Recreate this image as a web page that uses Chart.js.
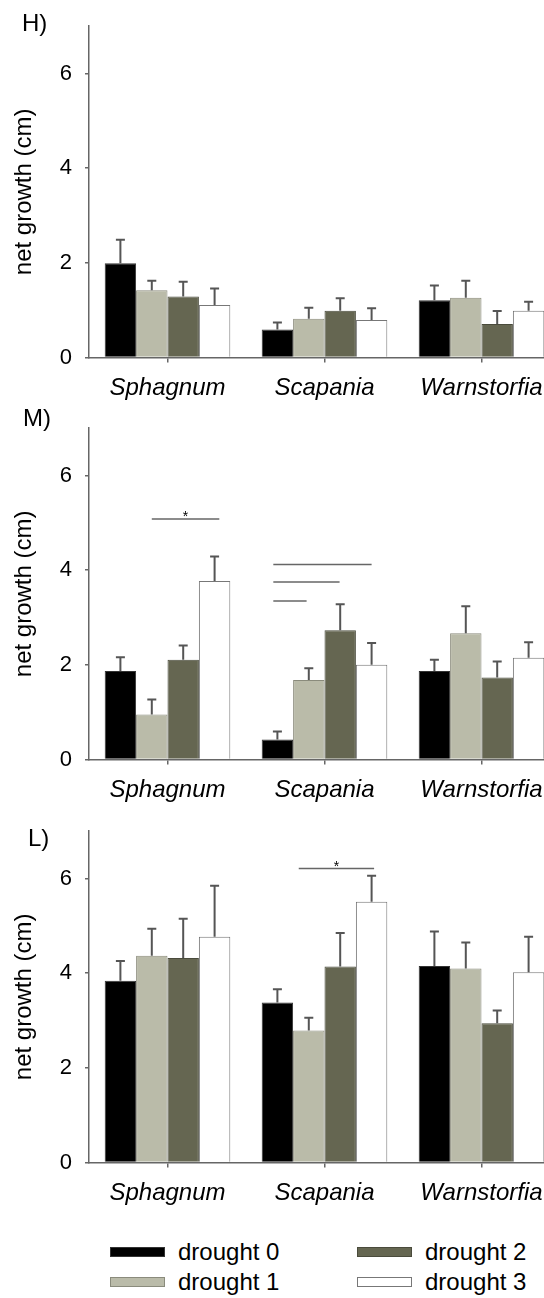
<!DOCTYPE html>
<html>
<head>
<meta charset="utf-8">
<script src="https://cdn.jsdelivr.net/npm/chart.js@4.4.1/dist/chart.umd.min.js"></script>
<style>
  body { margin: 0; background: #fff; font-family: "Liberation Sans", Arial, sans-serif; }
  #page { position: relative; width: 544px; height: 1298px; overflow: hidden; }
  .panel { position: absolute; left: 0; }
  .plabel { position: absolute; font-size: 24px; line-height: 24px; color: #000; }
  .leg { position: absolute; font-size: 24px; line-height: 24px; color: #000; white-space: nowrap; }
  .sw { position: absolute; width: 53px; height: 8px; border: 1px solid #666; }
</style>
</head>
<body>
<div id="page">
  <canvas id="chartH" class="panel" width="560" height="400" style="top:0px"></canvas>
  <canvas id="chartM" class="panel" width="560" height="400" style="top:401.5px"></canvas>
  <canvas id="chartL" class="panel" width="560" height="400" style="top:805px"></canvas>
  <div class="plabel" style="left:22px;top:11px">H)</div>
  <div class="plabel" style="left:23px;top:406px">M)</div>
  <div class="plabel" style="left:28px;top:826px">L)</div>
  <div id="legend"></div>
</div>
<script>
const categories = ['Sphagnum', 'Scapania', 'Warnstorfia'];
const seriesNames = ['drought 0', 'drought 1', 'drought 2', 'drought 3'];
const seriesFills = ['#000000', '#babba9', '#656651', '#ffffff'];
const seriesBorders = ['#333333', '#8a8b7c', '#4a4b3c', '#777777'];
const yTicks = [0, 2, 4, 6];

// H) means and standard errors, one row per drought level
const meanH = [[1.99, 0.59, 1.21], [1.42, 0.82, 1.26], [1.29, 0.99, 0.71], [1.11, 0.79, 0.99]];
const errH  = [[0.50, 0.15, 0.31], [0.20, 0.23, 0.36], [0.31, 0.26, 0.27], [0.35, 0.25, 0.19]];

// M)
const meanM = [[1.87, 0.42, 1.87], [0.95, 1.68, 2.67], [2.11, 2.73, 1.73], [3.77, 2.00, 2.15]];
const errM  = [[0.29, 0.17, 0.24], [0.32, 0.25, 0.57], [0.30, 0.55, 0.34], [0.52, 0.46, 0.33]];

// L)
const meanL = [[3.84, 3.38, 4.15], [4.37, 2.79, 4.10], [4.32, 4.14, 2.94], [4.77, 5.51, 4.02]];
const errL  = [[0.42, 0.28, 0.73], [0.57, 0.27, 0.55], [0.83, 0.71, 0.27], [1.08, 0.55, 0.75]];

// significance lines: category, from/to bar slot inside the group, height, star
const sigM = [
  { cat: 0, from: 1, to: 3.15, y: 5.08, star: true },
  { cat: 1, from: -0.13, to: 0.93, y: 3.35, star: false },
  { cat: 1, from: -0.13, to: 1.98, y: 3.75, star: false },
  { cat: 1, from: -0.13, to: 3.0, y: 4.12, star: false }
];
const sigL = [
  { cat: 1, from: 0.68, to: 3.08, y: 6.21, star: true }
];
const sigH = [];

const FONT = '"Liberation Sans", Arial, sans-serif';

// error bars + significance lines
const extrasPlugin = {
  id: 'extras',
  afterDatasetsDraw(chart, args, opts) {
    const ctx = chart.ctx;
    const yScale = chart.scales.y;
    ctx.save();
    ctx.strokeStyle = '#555';
    ctx.lineWidth = 2;
    chart.data.datasets.forEach((ds, i) => {
      const meta = chart.getDatasetMeta(i);
      meta.data.forEach((bar, j) => {
        const top = yScale.getPixelForValue(ds.data[j] + ds.errors[j]);
        ctx.beginPath();
        ctx.moveTo(bar.x, bar.y);
        ctx.lineTo(bar.x, top);
        ctx.moveTo(bar.x - 4.5, top);
        ctx.lineTo(bar.x + 4.5, top);
        ctx.stroke();
      });
    });
    const first = chart.getDatasetMeta(0);
    ctx.lineWidth = 1.5;
    ctx.strokeStyle = '#666';
    (opts.sig || []).forEach(s => {
      const bar = first.data[s.cat];
      const x1 = bar.x + s.from * bar.width;
      const x2 = bar.x + s.to * bar.width;
      const py = yScale.getPixelForValue(s.y);
      ctx.beginPath();
      ctx.moveTo(x1, py);
      ctx.lineTo(x2, py);
      ctx.stroke();
      if (s.star) {
        ctx.fillStyle = '#000';
        ctx.font = '14px ' + FONT;
        ctx.textAlign = 'center';
        ctx.textBaseline = 'alphabetic';
        ctx.fillText('*', (x1 + x2) / 2, py + 2);
      }
    });
    ctx.restore();
  }
};

function makeChart(id, means, errs, sig) {
  const datasets = seriesNames.map((name, i) => ({
    label: name,
    data: means[i],
    errors: errs[i],
    backgroundColor: seriesFills[i],
    borderColor: seriesBorders[i],
    borderWidth: 1,
    barPercentage: 1,
    categoryPercentage: 0.8
  }));
  return new Chart(document.getElementById(id), {
    type: 'bar',
    data: { labels: categories, datasets: datasets },
    options: {
      responsive: false,
      animation: false,
      layout: { padding: { top: 23.5, left: 0, right: 0, bottom: 0 } },
      plugins: {
        legend: { display: false },
        tooltip: { enabled: false },
        extras: { sig: sig }
      },
      scales: {
        x: {
          grid: { display: true, drawOnChartArea: false, offset: false, tickLength: 5, color: '#666', lineWidth: 1.5 },
          border: { color: '#666', width: 1.5 },
          ticks: { color: '#000', padding: 11, font: { family: FONT, size: 24, style: 'italic' } },
          afterFit: s => { s.height = 42.5; }
        },
        y: {
          min: 0,
          max: 7,
          afterBuildTicks: s => { s.ticks = yTicks.map(v => ({ value: v })); },
          ticks: { color: '#000', padding: 13, font: { family: FONT, size: 22 } },
          grid: { display: true, drawOnChartArea: false, tickLength: 4, color: '#666', lineWidth: 1.5 },
          border: { color: '#666', width: 1.5 },
          title: { display: true, text: 'net growth (cm)', color: '#000', padding: { top: 10, bottom: 0 }, font: { family: FONT, size: 24 } },
          afterFit: s => { s.width = 89; }
        }
      }
    },
    plugins: [extrasPlugin]
  });
}

makeChart('chartH', meanH, errH, sigH);
makeChart('chartM', meanM, errM, sigM);
makeChart('chartL', meanL, errL, sigL);

// legend, two columns: drought 0/1 left, drought 2/3 right
const legend = document.getElementById('legend');
const legCols = [110, 357];
const legRows = [1252, 1282];
seriesNames.forEach((name, i) => {
  const col = Math.floor(i / 2), row = i % 2;
  const sw = document.createElement('div');
  sw.className = 'sw';
  sw.style.left = legCols[col] + 'px';
  sw.style.top = (legRows[row] - 5) + 'px';
  sw.style.background = seriesFills[i];
  sw.style.borderColor = seriesBorders[i];
  legend.appendChild(sw);
  const t = document.createElement('div');
  t.className = 'leg';
  t.textContent = name;
  t.style.left = (legCols[col] + 68) + 'px';
  t.style.top = (legRows[row] - 12) + 'px';
  legend.appendChild(t);
});
</script>
</body>
</html>
